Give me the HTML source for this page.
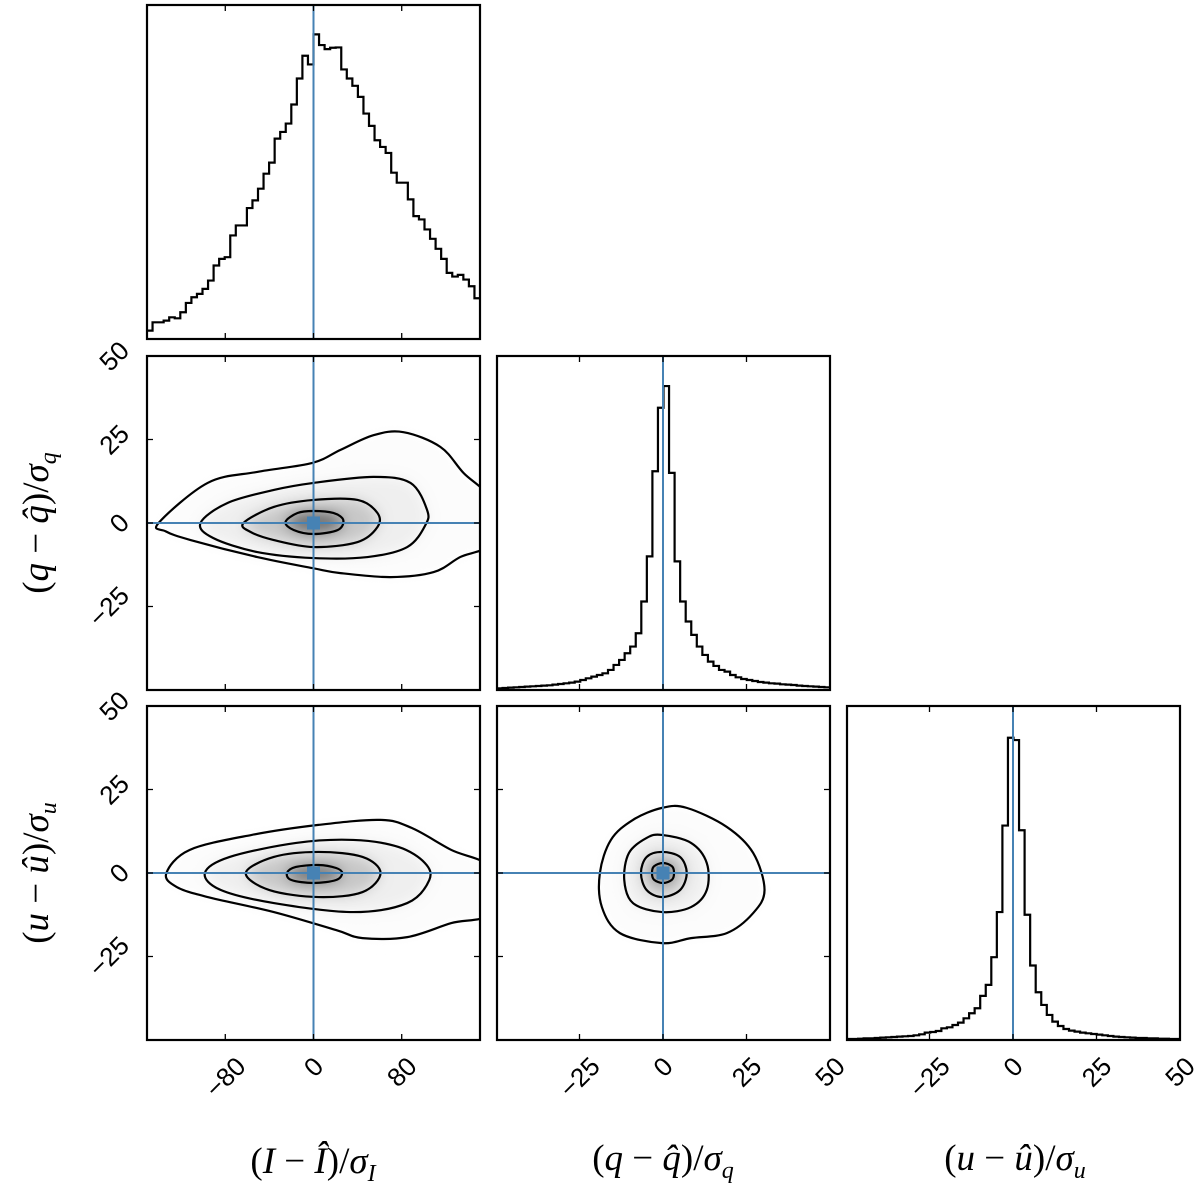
<!DOCTYPE html>
<html><head><meta charset="utf-8"><style>
html,body{margin:0;padding:0;background:#fff;}
svg{display:block;}
</style></head><body>
<svg id="fig" width="1200" height="1187" viewBox="0 0 1200 1187" xmlns="http://www.w3.org/2000/svg">
<defs><filter id="blur" x="-20%" y="-20%" width="140%" height="140%"><feGaussianBlur stdDeviation="7"/></filter></defs>
</svg>
<script>
// ---------- data ----------
const histI = [25,50,50,55,65,62,80,108,125,135,150,175,220,240,245,310,340,340,392,415,450,495,528,600,620,645,702,780,848,822,912,880,868,872,873,807,780,758,725,675,638,595,575,557,498,468,468,418,368,358,328,300,270,240,198,187,192,178,158,122];
const histQ = [5,6,7,8,9,10,11,12,13,14,16,18,20,22,25,30,35,40,45,50,60,75,90,110,130,170,265,400,655,845,910,650,385,265,205,165,130,105,85,72,60,55,45,38,33,30,27,24,22,20,19,17,16,15,13,12,11,10,9,8];
const histU = [3,3,4,5,5,6,7,8,9,10,11,12,14,17,22,24,27,35,38,45,52,65,80,95,132,165,248,383,642,905,898,628,375,223,143,105,75,55,42,33,28,25,22,20,18,16,14,12,10,9,8,7,6,6,5,5,4,4,3,3];
const histMax = 1000;
const rangeI = [-151, 151];
const rangeQ = [-49.7, 50];
const rangeU = [-49.7, 50];
const rangeY = [-50, 50];
const ticksI = [-80, 0, 80];
const ticksQU = [-25, 0, 25, 50];
const ticksY = [-25, 0, 25, 50];
const truth = [0, 0];
// contours (data units)
const contIQ = [
 [[-140.5,0],[-96,12],[-51,15.3],[-1,18],[24.5,21.9],[54.4,26.3],[81.6,27.2],[115,22.8],[136,15],[160,7],[160,-6],[133,-10.2],[109,-14.7],[70,-16.2],[24.5,-15],[-1,-13.5],[-51,-10.2],[-111.5,-5.1],[-134,-2.5]],
 [[-102.5,0],[-78,6],[-36,9.9],[0,12],[54.4,13.8],[88,12],[103,3.9],[101.5,-0.6],[85,-7.2],[49,-10.2],[0,-10.5],[-51,-8.7],[-91,-4.5]],
 [[-63.5,0],[-36,4.8],[0,6.9],[40,6.9],[58,3],[58,-1.2],[40,-5.7],[0,-7.2],[-36,-5.1],[-57,-2.7]],
 [[-25.4,0.3],[-14.5,3],[0,3.6],[18,3],[27,0.9],[22,-2.1],[0,-3.3],[-18,-2.1]]
];
const contIU = [
 [[-133.5,-0.1],[-112.4,6.9],[-56,11.4],[4.5,14.4],[60.8,15.9],[89,13.5],[125,6.9],[160,1.5],[160,-12],[125,-15],[85,-19.2],[44.5,-19.5],[20.5,-17.1],[-36,-11.7],[-96,-7.2],[-124,-4.2]],
 [[-98.5,0],[-76,4.8],[-15.8,9],[36,9.9],[77,7.8],[101,3],[105,-2.1],[85,-9],[36,-11.7],[-36,-9],[-84,-5.1]],
 [[-61.4,0],[-36,4.8],[4.5,6.3],[44.5,4.8],[60.8,0],[44.5,-5.7],[4.5,-7.2],[-40,-5.1]],
 [[-24,0],[-16,1.8],[4.5,2.4],[20.5,1.5],[26,0],[20.5,-2.1],[0,-3],[-20,-2.1]]
];
const contQU = [
 [[-0.3,19.5],[7.1,19.5],[19.1,13.8],[27,6],[30.4,-5.1],[27,-12],[19.1,-18],[8.4,-19.5],[-0.3,-21],[-12.9,-18],[-18.3,-10.2],[-18.9,0],[-15.6,9.9],[-9,15.9]],
 [[-0.3,11.4],[8.4,9],[13.1,3],[13.1,-5.1],[8.4,-10.2],[-0.3,-11.7],[-9,-9],[-11.6,-2.1],[-10.2,6],[-4.9,10.5]],
 [[-0.3,6.3],[5.1,4.8],[7.1,0],[5.1,-5.1],[-0.3,-7.2],[-4.9,-5.1],[-6.6,0],[-4.9,4.8]],
 [[0,3],[2.7,2],[3.3,0],[2.7,-2],[0,-3],[-2.7,-2],[-3.3,0],[-2.7,2]]
];
const fillShades = ['#fcfcfc','#efefef','#c8c8c8','#6e6e6e'];

// ---------- layout ----------
const NS = 'http://www.w3.org/2000/svg';
const svg = document.getElementById('fig');
const colX = [147, 497, 847], rowY = [5, 356, 706], W = 333, H = 334;
const BLUE = '#4682b4';
function mk(tag, attrs, parent){ const e=document.createElementNS(NS,tag); for(const k in attrs) e.setAttribute(k,attrs[k]); (parent||svg).appendChild(e); return e; }
function scale(d, r0, r1){ return v => r0 + (v-d[0])/(d[1]-d[0])*(r1-r0); }

function smoothClosed(pts){
  const n=pts.length; let d=`M${pts[0][0]},${pts[0][1]}`;
  for(let i=0;i<n;i++){
    const p0=pts[(i-1+n)%n],p1=pts[i],p2=pts[(i+1)%n],p3=pts[(i+2)%n];
    const c1=[p1[0]+(p2[0]-p0[0])/6,p1[1]+(p2[1]-p0[1])/6], c2=[p2[0]-(p3[0]-p1[0])/6,p2[1]-(p3[1]-p1[1])/6];
    d+=` C${c1[0]},${c1[1]} ${c2[0]},${c2[1]} ${p2[0]},${p2[1]}`;
  }
  return d+'Z';
}

let clipId=0;
function panel(name, col, row){
  const x0=colX[col], y0=rowY[row];
  const g = mk('g',{});
  
  
  const id='clip'+(clipId++);
  const cp=mk('clipPath',{id}); mk('rect',{x:x0,y:y0,width:W,height:H},cp);
  const inner=mk('g',{'clip-path':`url(#${id})`},g);
  return {g, inner, x0, y0};
}
function frame(p, xt, xs, yt, ys){
  const {g,x0,y0}=p;
  xt.forEach(t=>{ const x=xs(t);
    const tk=mk('path',{d:`M${x},${y0+H}v-6M${x},${y0}v6`,stroke:'#000','stroke-width':1.3},g);
    
    
  });
  if(yt) yt.forEach(t=>{ const y=ys(t); if(y<=y0+1||y>=y0+H-1) return;
    const tk=mk('path',{d:`M${x0},${y}h6M${x0+W},${y}h-6`,stroke:'#000','stroke-width':1.3},g);
    
    
  });
  const r=mk('rect',{x:x0,y:y0,width:W,height:H,fill:'none',stroke:'#000','stroke-width':2.2},g);
  
  
}
function hist(name, col, row, vals, range, ticks){
  const p=panel(name,col,row);
  const xs=scale(range,p.x0,p.x0+W), ys=v=>p.y0+H-(v/histMax)*H;
  const n=vals.length, bw=(range[1]-range[0])/n;
  let d='';
  vals.forEach((v,i)=>{ const xa=xs(range[0]+i*bw), xb=xs(range[0]+(i+1)*bw), y=ys(v);
    d += (i===0?`M${xa},${y}`:`V${y}`)+`H${xb}`; });
  const path=mk('path',{d,fill:'none',stroke:'#000','stroke-width':2.2},p.inner);
  
  
  const vl=mk('line',{x1:xs(truth[0]),x2:xs(truth[0]),y1:p.y0,y2:p.y0+H,stroke:BLUE,'stroke-width':2},p.inner);
  
  
  frame(p,ticks,xs,null,null);
}
function contourPanel(name, col, row, rx, ticksX, conts){
  const p=panel(name,col,row);
  const xs=scale(rx,p.x0,p.x0+W), ys=scale(rangeY,p.y0+H,p.y0);
  const paths=conts.map(c=>smoothClosed(c.map(q=>[xs(q[0]),ys(q[1])])));
  const shade=mk('g',{filter:'url(#blur)'},p.inner);
  
  
  paths.forEach((d,i)=>mk('path',{d,fill:fillShades[i],stroke:'none'},shade));
  paths.forEach(d=>{ const c=mk('path',{d,fill:'none',stroke:'#000','stroke-width':2.2},p.inner);
    
     });
  const cx=xs(truth[0]), cy=ys(truth[1]);
  const vl=mk('line',{x1:cx,x2:cx,y1:p.y0,y2:p.y0+H,stroke:BLUE,'stroke-width':2},p.inner);
  
  
  const hl=mk('line',{x1:p.x0,x2:p.x0+W,y1:cy,y2:cy,stroke:BLUE,'stroke-width':2},p.inner);
  
  
  const m=mk('rect',{x:cx-6.5,y:cy-6.5,width:13,height:13,fill:BLUE},p.inner);
  
  
  frame(p,ticksX,xs,ticksY,ys);
}

hist('hist-I',0,0,histI,rangeI,ticksI);
contourPanel('contour-I-q',0,1,rangeI,ticksI,contIQ);
hist('hist-q',1,1,histQ,rangeQ,ticksQU.filter(t=>t<50));
contourPanel('contour-I-u',0,2,rangeI,ticksI,contIU);
contourPanel('contour-q-u',1,2,rangeQ,ticksQU.filter(t=>t<50),contQU);
hist('hist-u',2,2,histU,rangeU,ticksQU.filter(t=>t<50));

// tick labels (rotated 45deg, bbox-aligned like matplotlib)
const TFS = 26;
function fmt(t){ return t<0?'\u2212'+(-t):String(t); }
function tickLabel(txt,mode,pos,name){
  const t=mk('text',{'text-anchor':'middle','dominant-baseline':'central','font-family':'"Liberation Sans", "DejaVu Sans", sans-serif','font-size':TFS,fill:'#000'});
  t.textContent=txt;
  
  
  const L=t.getComputedTextLength();
  const bw=(L+TFS*0.72)*0.7071;
  let cx,cy;
  if(mode==='x'){ cx=pos; cy=1055+bw/2; } else { cx=131-bw/2; cy=pos; }
  t.setAttribute('transform',`translate(${cx},${cy}) rotate(-45)`);
}
[[0,rangeI,ticksI],[1,rangeQ,ticksQU],[2,rangeU,ticksQU]].forEach(([c,r,tk])=>{
  const xs=scale(r,colX[c],colX[c]+W);
  tk.forEach(t=>tickLabel(fmt(t),'x',xs(t),'x-tick-label'));
});
[1,2].forEach(row=>{
  const ys=scale(rangeY,rowY[row]+H,rowY[row]);
  ticksY.forEach(t=>tickLabel(fmt(t),'y',ys(t),'y-tick-label'));
});

// axis labels
function axisLabel(html,x,y,rot,name){
  const t=mk('text',{transform:`translate(${x},${y}) rotate(${rot})`,'text-anchor':'middle','font-family':'"Liberation Serif", "DejaVu Serif", serif','font-size':37,'font-style':'italic',fill:'#000'});
  t.innerHTML=html;
  
  
}
const lbl=(v,h)=>`<tspan font-style="normal">(</tspan>${v}<tspan font-style="normal"> \u2212 </tspan>${h}<tspan font-style="normal">)/</tspan>σ<tspan font-size="24" dy="8">${v}</tspan>`;
axisLabel(lbl('I','Î'),313,1173,0,'x-axis-title-I');
axisLabel(lbl('q','q̂'),663,1170,0,'x-axis-title-q');
axisLabel(lbl('u','û'),1015,1170,0,'x-axis-title-u');
axisLabel(lbl('q','q̂'),48,523,-90,'y-axis-title-q');
axisLabel(lbl('u','û'),48,873,-90,'y-axis-title-u');
</script>
</body></html>
